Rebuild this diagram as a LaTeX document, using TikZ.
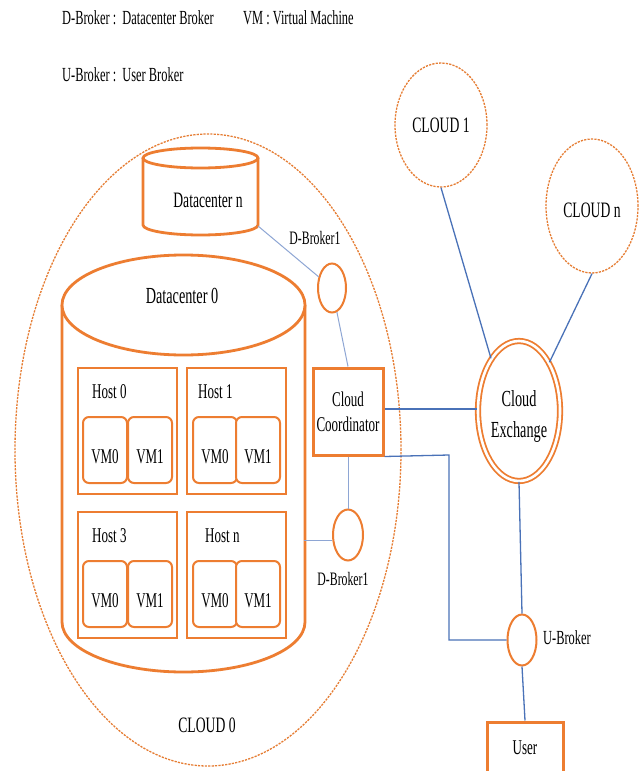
\documentclass[tikz,border=0pt]{standalone}
\usepackage{fontspec}
\setmainfont[FakeStretch=0.62]{Liberation Serif}
\usetikzlibrary{shapes.geometric}

\definecolor{dcorange}{HTML}{ED7D31}
\definecolor{linkblue}{HTML}{4A72B8}
\definecolor{paleblue}{HTML}{8EA6D4}

\newcommand{\fs}[1]{\fontsize{#1}{#1}\selectfont}

\begin{document}
\begin{tikzpicture}[x=1pt,y=-1pt,
  txt/.style={inner sep=0pt, font=\fs{21}},
  legend/.style={inner sep=0pt, anchor=base west, font=\fs{20}},
  cloudarea/.style={draw=dcorange!85!brown, line width=1.3pt, dash pattern=on 2.2pt off 1.2pt},
  broker/.style={draw=dcorange, line width=2pt, ellipse, fill=white, inner sep=0pt},
  hostbox/.style={draw=dcorange, line width=2.8pt, fill=white},
  vmbox/.style={draw=dcorange, line width=2pt, rounded corners=6pt, fill=white},
  solidbox/.style={draw=dcorange, line width=3pt, fill=white, inner sep=0pt},
  cyl/.style={draw=dcorange, line width=2.8pt, fill=white},
  paleline/.style={draw=paleblue, line width=1pt},
  blueline/.style={draw=linkblue, line width=1.3pt},
  mainline/.style={draw=linkblue, line width=2pt}
]
\useasboundingbox[fill=white] (0,0) rectangle (643,771);

% legend
\node[legend] (lg1) at (62,24) {D-Broker :\ \ Datacenter Broker};
\node[legend] (lg2) at (243,24) {VM : Virtual Machine};
\node[legend] (lg3) at (62,81) {U-Broker :\ \ User Broker};

% outer dashed clouds
\node[cloudarea, ellipse, minimum width=386pt, minimum height=632pt, inner sep=0pt] (cloud0) at (208,450) {};
\node[txt, font=\fs{22}] (cloud0lbl) at (207,725) {CLOUD 0};
\node[cloudarea, ellipse, minimum width=92pt, minimum height=124pt, inner sep=0pt] (cloud1) at (441,125) {};
\node[txt, font=\fs{22}] (cloud1lbl) at (441,125) {CLOUD 1};
\node[cloudarea, ellipse, minimum width=92pt, minimum height=134pt, inner sep=0pt] (cloudn) at (592,206) {};
\node[txt, font=\fs{22}] (cloudnlbl) at (592,210) {CLOUD n};

% Datacenter n cylinder
\path[cyl] (143,158) -- (143,225)
  arc[start angle=180, end angle=360, x radius=57.5pt, y radius=10pt] -- (258,158);
\draw[cyl] (200.5,158) ellipse[x radius=57.5pt, y radius=10pt];
\coordinate (dcn-br) at (258,226);
\node[txt, font=\fs{22}] (dcn) at (208,200) {Datacenter n};

% Datacenter 0 cylinder
\path[cyl] (62,305) -- (62,622)
  arc[start angle=180, end angle=360, x radius=121.5pt, y radius=50pt] -- (305,305);
\draw[cyl] (183.5,305) ellipse[x radius=121.5pt, y radius=50pt];
\coordinate (dc0-r) at (304,540);
\node[txt, font=\fs{23}] (dc0) at (182,296) {Datacenter 0};

% hosts
\foreach \hx/\hy/\hname/\lx in {78/368/Host 0/92, 187/368/Host 1/198, 78/512/Host 3/92, 187/512/Host n/205}{
  \draw[hostbox] (\hx,\hy) rectangle ++(99,126);
  \node[legend, font=\fs{21}] at (\lx,\hy+30) {\hname};
}
% virtual machines
\foreach \vx/\vy/\vn in {83/417/VM0, 128/417/VM1, 193/417/VM0, 236/417/VM1,
                         83/561/VM0, 128/561/VM1, 193/561/VM0, 236/561/VM1}{
  \draw[vmbox] (\vx,\vy) rectangle ++(44,66);
  \node[txt] at (\vx+22,\vy+40) {\vn};
}

% brokers
\node[broker, minimum width=28pt, minimum height=49pt] (dbr1) at (332,288) {};
\node[txt, font=\fs{19}] (dbr1lbl) at (315,238) {D-Broker1};
\node[broker, minimum width=30pt, minimum height=51pt] (dbr2) at (348,535) {};
\node[txt, font=\fs{19}] (dbr2lbl) at (343,579) {D-Broker1};
\node[broker, minimum width=29pt, minimum height=51pt] (ub) at (522,640) {};
\node[txt, font=\fs{20}] (ublbl) at (567,638) {U-Broker};

% cloud coordinator and exchange
\node[solidbox, minimum width=70pt, minimum height=87pt, align=center, font=\fs{21}] (cc) at (348,411.5)
  {Cloud\\[4pt]Coordinator};
\node[ellipse, draw=dcorange, double=white, double distance=2.6pt, line width=1.8pt,
  minimum width=82pt, minimum height=140pt, inner sep=0pt] (ce) at (519,411) {};
\node[txt, align=center, font=\fs{23}] (celbl) at (519,416) {Cloud\\[8pt]Exchange};
\node[solidbox, minimum width=76pt, minimum height=52pt, font=\fs{21}] (user) at (525,748) {User};

% connectors
\draw[paleline] (dcn-br) -- (dbr1);
\draw[paleline] (dbr1) -- (cc.north);
\draw[paleline] (cc.south -| dbr2) -- (dbr2.north);
\draw[paleline] (dbr2.west |- dc0-r) -- (dc0-r);
\draw[mainline] (cc.east |- 0,409) -- (ce.west |- 0,409);
\draw[blueline] (cc.south east) -- (449,455) |- (ub.west);
\draw[blueline] (ce.south) -- (ub.north);
\draw[blueline] (ub.south) -- (user.north);
\draw[blueline] (cloud1.south) -- (ce.118);
\draw[blueline] (cloudn.south) -- (ce.58);
\end{tikzpicture}
\end{document}
